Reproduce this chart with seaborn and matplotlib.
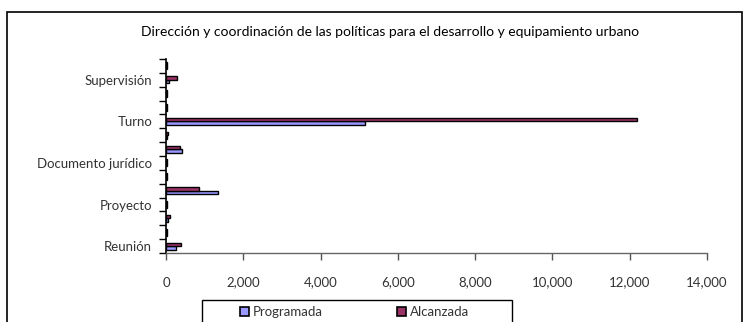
import matplotlib
matplotlib.use("Agg")
import matplotlib.pyplot as plt
from matplotlib.patches import Rectangle
from matplotlib.ticker import FuncFormatter, FixedLocator
import seaborn as sns
import pandas as pd

# Categories listed from the bottom of the chart upwards; only every third one is labelled
tick_labels = ["Reunión", "", "", "Proyecto", "", "", "Documento jurídico",
               "", "", "Turno", "", "", "Supervisión", ""]
programada = [250, 15, 50, 15, 1350, 20, 15, 420, 25, 5150, 20, 15, 80, 30]
alcanzada = [390, 20, 110, 25, 860, 15, 20, 360, 40, 12180, 15, 25, 280, 20]
series_names = ["Programada", "Alcanzada"]
series_colors = ["#9999FF", "#993366"]
title = "Dirección y coordinación de las políticas para el desarrollo y equipamiento urbano"

n = len(tick_labels)
df = pd.DataFrame({
    "pos": list(range(n)) * 2,
    "valor": programada + alcanzada,
    "serie": [series_names[0]] * n + [series_names[1]] * n,
})

sns.set_theme(style="white")
plt.rcParams["font.family"] = ["Lato", "DejaVu Sans"]

fig = plt.figure(figsize=(7.49, 3.22), dpi=100)
fig.patch.set_facecolor("white")
W, H = 749, 322

# outer chart frame
fig.patches.append(Rectangle((7 / W, -0.05), (742 - 7) / W, 1 - 12 / H + 0.05,
                             transform=fig.transFigure, fill=False,
                             edgecolor="black", linewidth=1.2, zorder=0))

ax = fig.add_axes([166 / W, 1 - 253 / H, (707 - 166) / W, (253 - 59) / H])
sns.barplot(data=df, x="valor", y="pos", hue="serie", orient="y",
            palette=series_colors, hue_order=series_names, width=0.5,
            edgecolor="black", linewidth=1.0, saturation=1, ax=ax,
            legend=False, errorbar=None)

ax.set_ylim(-0.5, n - 0.5)
ax.set_xlim(0, 14000)
ax.set_xticks(range(0, 14001, 2000))
ax.xaxis.set_major_formatter(FuncFormatter(lambda v, p: f"{int(v):,}"))
ax.set_yticks(range(n))
ax.set_yticklabels(tick_labels)
ax.yaxis.set_minor_locator(FixedLocator([i - 0.5 for i in range(n + 1)]))
ax.tick_params(axis="y", which="major", length=0, pad=10, labelsize=9.5,
               labelcolor="#333333")
ax.tick_params(axis="y", which="minor", length=5, width=1, color="black", left=True)
ax.tick_params(axis="x", which="major", length=5, width=1, color="#555555",
               bottom=True, pad=12, labelsize=9.5, labelcolor="#333333")
ax.set_xlabel("")
ax.set_ylabel("")
for side in ["top", "right"]:
    ax.spines[side].set_visible(False)
ax.spines["left"].set_color("black")
ax.spines["left"].set_linewidth(1.2)
ax.spines["bottom"].set_color("#666666")
ax.spines["bottom"].set_linewidth(1.0)
ax.grid(False)

fig.text(390 / W, 1 - 32 / H, title, ha="center", va="center",
         fontsize=10, color="black")

# legend box, running past the lower edge of the figure
fig.patches.append(Rectangle((202 / W, -0.05), (512 - 202) / W, (322 - 300) / H + 0.05,
                             transform=fig.transFigure, fill=False,
                             edgecolor="black", linewidth=1.0, zorder=1))
handles = [Rectangle((0, 0), 1, 1, facecolor=c, edgecolor="black", linewidth=1.2)
           for c in series_colors]
leg = fig.legend(handles, series_names, loc="center left",
                 bbox_to_anchor=(240 / W, 1 - 312 / H), ncol=2, frameon=False,
                 fontsize=9.5, handlelength=0.7, handleheight=0.7,
                 handletextpad=0.3, columnspacing=5.6, borderpad=0,
                 borderaxespad=0)
for t in leg.get_texts():
    t.set_color("#333333")

fig.savefig("out.png", dpi=100)
